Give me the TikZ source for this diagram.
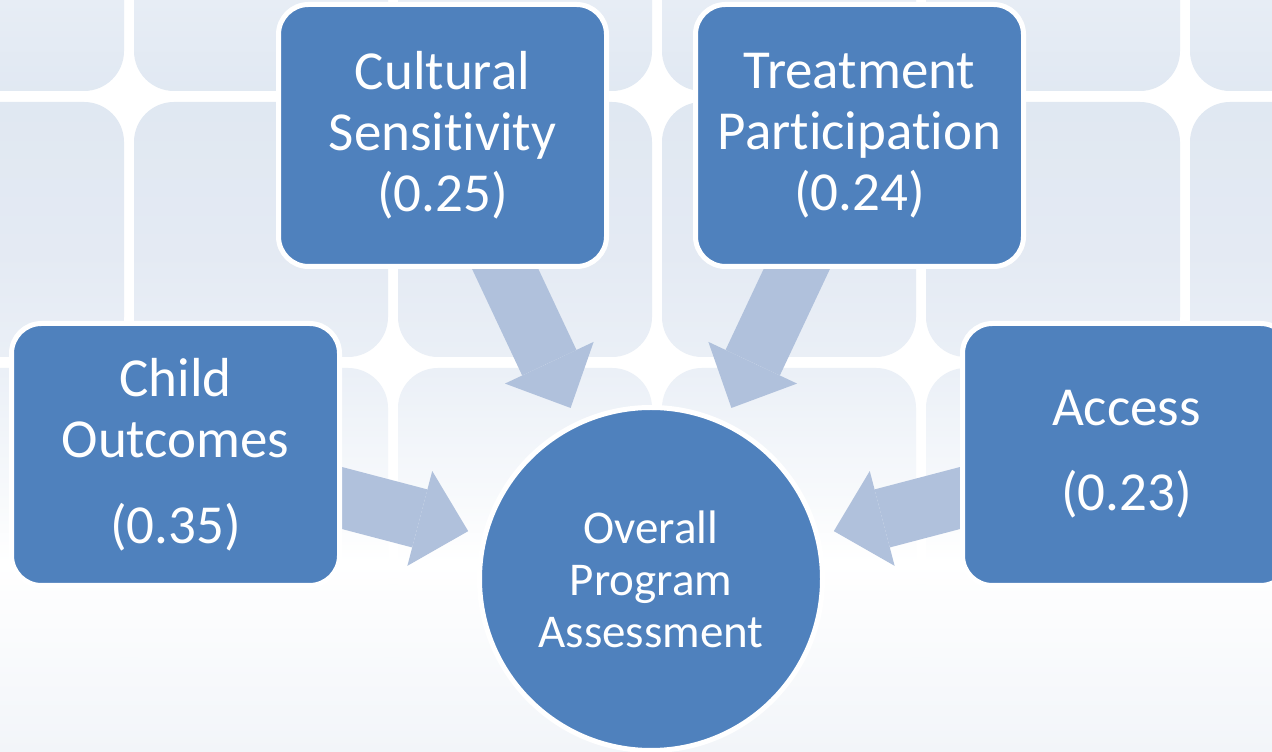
\documentclass[tikz,border=0pt]{standalone}
\usepackage{fontspec}
\setmainfont[Ligatures=NoCommon]{Carlito}
\usetikzlibrary{positioning,arrows.meta,backgrounds}
\definecolor{boxblue}{RGB}{79,129,189}
\definecolor{arrowblue}{RGB}{176,193,220}
\definecolor{tileA}{RGB}{231,237,245}
\definecolor{tileB}{RGB}{224,232,242}
\definecolor{tileC}{RGB}{228,234,243}
\definecolor{tileD}{RGB}{235,240,247}
\definecolor{tileE}{RGB}{248,250,252}
\definecolor{tileF}{RGB}{242,245,249}
\pgfdeclareverticalshading{tilefade}{100bp}{color(0bp)=(tileF); color(25bp)=(tileF);
  color(37.6bp)=(white); color(41.6bp)=(tileE); color(50.3bp)=(tileD);
  color(58.2bp)=(tileC); color(68.2bp)=(tileB); color(75bp)=(tileA); color(100bp)=(tileA)}
\tikzset{factor/.style={rectangle,rounded corners=30pt,draw=white,line width=5pt,fill=boxblue,
	   text=white,minimum width=328pt,minimum height=262pt,align=center,
	   font=\fontsize{55}{61}\selectfont},
	 goal/.style={circle,draw=white,line width=5pt,fill=boxblue,text=white,
	   minimum size=343pt,align=center,font=\fontsize{47}{52}\selectfont},
	 feed/.style={arrowblue,line width=60pt,-{Triangle[length=50pt,width=98pt,line width=0pt]},
	   shorten <=-20pt,shorten >=15pt}
	 }

\begin{document}
\begin{tikzpicture}[x=1pt,y=1pt]% weighted program assessment
        \useasboundingbox (0,0) rectangle (1272,752);
        \clip (0,0) rectangle (1272,752);
        \node[factor] (cult) at (442.5,616.5) {Cultural\\Sensitivity\\(0.25)};
        \node[factor] (treat) at (859.5,616.5) {Treatment\\Participation\\(0.24)};
        \node[factor] (child) at (175.5,297.5) {Child\\Outcomes\\[25pt](0.35)};
        \node[factor] (access) at (1126.5,297.5) {Access\\[24pt](0.23)};
        \node[goal] (overall) at (651,173) {Overall\\Program\\Assessment};
        \begin{scope}[on background layer]
          \fill[white] (0,0) rectangle (1272,752);
          \shade[top color=white,bottom color=tileF] (0,0) rectangle (1272,190);
          \begin{scope}
            \clip[rounded corners=40pt] \foreach \tx in {-130,134,...,1190} {
              \foreach \ty in {-137,129,...,661} { (\tx,\ty) rectangle ++(254,255) } };
            \shade[shading=tilefade] (0,0) rectangle (1272,752);
          \end{scope}
          \draw[feed] (child) -- (overall);
          \draw[feed] (cult) -- (overall);
          \draw[feed] (treat) -- (overall);
          \draw[feed] (access) -- (overall);
        \end{scope}
     \end{tikzpicture}
\end{document}
